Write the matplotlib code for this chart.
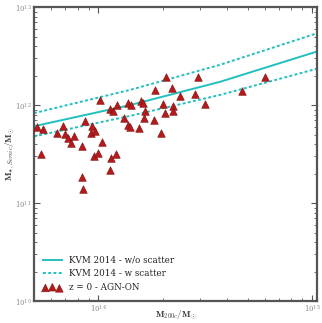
import matplotlib
matplotlib.use('Agg')
import matplotlib.pyplot as plt
import numpy as np

# KVM 2014 relation (M200c, M*)
kvm_m200 = [5.0e13, 1.41e14, 3.72e14, 1.055e15]
kvm_mstar = [6.08e11, 1.0e12, 1.73e12, 3.52e12]
kvm_upper = [8.28e11, 1.43e12, 2.58e12, 5.40e12]
kvm_lower = [4.79e11, 7.76e11, 1.27e12, 2.35e12]

# z = 0 AGN-ON clusters (M200c in 1e14 Msun, M* in 1e12 Msun)
m200 = [0.519, 0.553, 0.542, 0.643, 0.686, 0.701, 0.724, 0.748, 0.773, 0.841,
        0.869, 0.927, 0.937, 0.968, 1.045, 1.021, 0.958, 1.0, 1.138, 1.175,
        1.227, 1.214, 1.151, 1.138, 0.841, 0.851, 1.322, 1.380, 1.426, 1.380,
        1.412, 1.555, 1.589, 1.623, 1.640, 1.660, 1.828, 1.846, 1.969, 2.078,
        2.216, 2.416, 2.931, 2.838, 3.162, 2.012, 2.239, 2.239, 2.055, 4.71,
        6.03]
mstar = [0.593, 0.566, 0.320, 0.514, 0.608, 0.502, 0.457, 0.406, 0.479, 0.378,
         0.684, 0.514, 0.608, 0.540, 0.416, 1.127, 0.305, 0.327, 0.910, 0.867,
         1.0, 0.320, 0.291, 0.219, 0.185, 0.139, 0.735, 1.049, 1.0, 0.622,
         0.593, 0.579, 1.100, 1.049, 0.735, 0.867, 0.700, 1.428, 0.514, 1.945,
         1.496, 1.238, 1.945, 1.298, 1.024, 1.024, 0.977, 0.867, 0.827, 1.394,
         1.945]

plt.rcParams['mathtext.fontset'] = 'cm'
plt.rcParams['font.family'] = 'DejaVu Serif'

cyan = '#22bfbf'
red = '#b51a1a'
grey = '#555555'

fig = plt.figure(figsize=(3.22, 3.23), dpi=100)
ax = fig.add_axes([0.1056, 0.068, 0.8786, 0.910])

ax.plot(kvm_m200, kvm_mstar, color=cyan, lw=1.4, label='KVM 2014 - w/o scatter')
ax.plot(kvm_m200, kvm_upper, color=cyan, lw=1.4, ls=(0, (1.5, 1.2)), label='KVM 2014 - w scatter')
ax.plot(kvm_m200, kvm_lower, color=cyan, lw=1.4, ls=(0, (1.5, 1.2)))
ax.scatter(np.array(m200) * 1e14, np.array(mstar) * 1e12, marker='^', s=30,
           color=red, edgecolor='#7a1010', linewidths=0.4, zorder=3,
           label='z = 0 - AGN-ON')

ax.set_xscale('log')
ax.set_yscale('log')
ax.set_xlim(5e13, 1.055e15)
ax.set_ylim(1e10, 1e13)

ax.tick_params(which='both', direction='in', top=True, right=True,
               colors=grey, labelsize=5, labelcolor='#888888', pad=1.5)
ax.tick_params(which='major', length=4, width=0.8)
ax.tick_params(which='minor', length=2, width=0.6)
for s in ax.spines.values():
    s.set_color(grey)
    s.set_linewidth(1.6)

ax.set_xlabel(r'$\mathbf{M}_{200c}/\mathbf{M}_{\odot}$', fontsize=6.5, color='#333333', va='center')
ax.xaxis.set_label_coords(0.5, -0.048)
ax.set_ylabel(r'$\mathbf{M}_{\star,Sersic}/\mathbf{M}_{\odot}$', fontsize=6.5, color='#333333', va='center')
ax.yaxis.set_label_coords(-0.085, 0.5)

leg = ax.legend(loc='lower left', frameon=False, fontsize=6.3, scatterpoints=3,
                handlelength=2.2, borderaxespad=0.6, labelspacing=0.55)
for t in leg.get_texts():
    t.set_color('#222222')

fig.savefig('out.png', dpi=100)
